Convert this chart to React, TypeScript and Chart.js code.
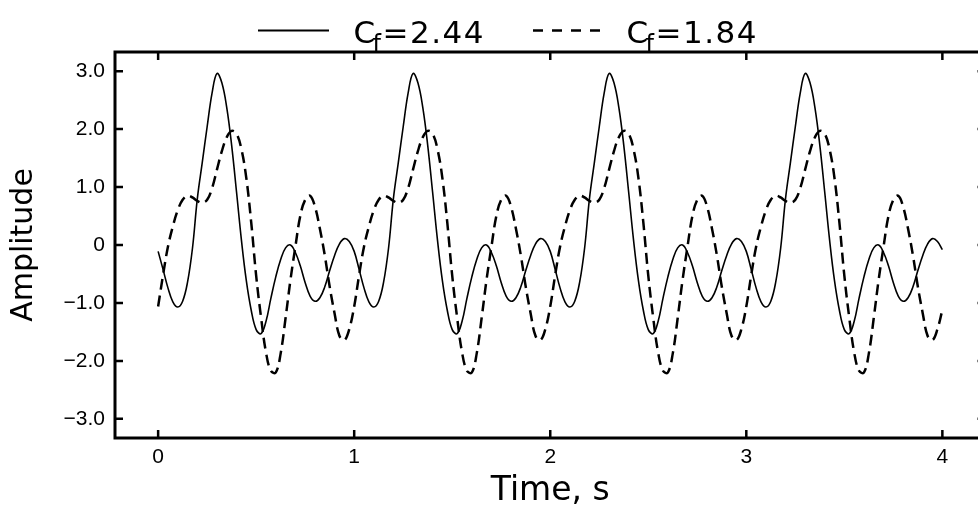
import { useEffect, useRef } from "react";
import { Chart, registerables } from "chart.js";

Chart.register(...registerables);

// Sample times (s)
const TIMES = [
  0, 0.025, 0.05, 0.075, 0.1, 0.125, 0.15, 0.175, 0.2, 0.225,
  0.25, 0.275, 0.3, 0.325, 0.35, 0.375, 0.4, 0.425, 0.45, 0.475,
  0.5, 0.525, 0.55, 0.575, 0.6, 0.625, 0.65, 0.675, 0.7, 0.725,
  0.75, 0.775, 0.8, 0.825, 0.85, 0.875, 0.9, 0.925, 0.95, 0.975,
  1, 1.025, 1.05, 1.075, 1.1, 1.125, 1.15, 1.175, 1.2, 1.225,
  1.25, 1.275, 1.3, 1.325, 1.35, 1.375, 1.4, 1.425, 1.45, 1.475,
  1.5, 1.525, 1.55, 1.575, 1.6, 1.625, 1.65, 1.675, 1.7, 1.725,
  1.75, 1.775, 1.8, 1.825, 1.85, 1.875, 1.9, 1.925, 1.95, 1.975,
  2, 2.025, 2.05, 2.075, 2.1, 2.125, 2.15, 2.175, 2.2, 2.225,
  2.25, 2.275, 2.3, 2.325, 2.35, 2.375, 2.4, 2.425, 2.45, 2.475,
  2.5, 2.525, 2.55, 2.575, 2.6, 2.625, 2.65, 2.675, 2.7, 2.725,
  2.75, 2.775, 2.8, 2.825, 2.85, 2.875, 2.9, 2.925, 2.95, 2.975,
  3, 3.025, 3.05, 3.075, 3.1, 3.125, 3.15, 3.175, 3.2, 3.225,
  3.25, 3.275, 3.3, 3.325, 3.35, 3.375, 3.4, 3.425, 3.45, 3.475,
  3.5, 3.525, 3.55, 3.575, 3.6, 3.625, 3.65, 3.675, 3.7, 3.725,
  3.75, 3.775, 3.8, 3.825, 3.85, 3.875, 3.9, 3.925, 3.95, 3.975,
  4,
];

// Cf = 2.44 (solid)
const SERIES_CF244 = [
  -0.11, -0.42, -0.74, -0.98, -1.07, -0.97, -0.64, -0.06, 0.8, 1.42,
  2.04, 2.62, 2.96, 2.8, 2.37, 1.72, 0.91, 0.08, -0.62, -1.13,
  -1.46, -1.53, -1.32, -0.92, -0.55, -0.25, -0.05, 0, -0.13, -0.36,
  -0.65, -0.88, -0.97, -0.91, -0.72, -0.44, -0.18, 0.02, 0.11, 0.06,
  -0.11, -0.42, -0.74, -0.98, -1.07, -0.97, -0.64, -0.06, 0.8, 1.42,
  2.04, 2.62, 2.96, 2.8, 2.37, 1.72, 0.91, 0.08, -0.62, -1.13,
  -1.46, -1.53, -1.32, -0.92, -0.55, -0.25, -0.05, 0, -0.13, -0.36,
  -0.65, -0.88, -0.97, -0.91, -0.72, -0.44, -0.18, 0.02, 0.11, 0.06,
  -0.11, -0.42, -0.74, -0.98, -1.07, -0.97, -0.64, -0.06, 0.8, 1.42,
  2.04, 2.62, 2.96, 2.8, 2.37, 1.72, 0.91, 0.08, -0.62, -1.13,
  -1.46, -1.53, -1.32, -0.92, -0.55, -0.25, -0.05, 0, -0.13, -0.36,
  -0.65, -0.88, -0.97, -0.91, -0.72, -0.44, -0.18, 0.02, 0.11, 0.06,
  -0.11, -0.42, -0.74, -0.98, -1.07, -0.97, -0.64, -0.06, 0.8, 1.42,
  2.04, 2.62, 2.96, 2.8, 2.37, 1.72, 0.91, 0.08, -0.62, -1.13,
  -1.46, -1.53, -1.32, -0.92, -0.55, -0.25, -0.05, 0, -0.13, -0.36,
  -0.65, -0.88, -0.97, -0.91, -0.72, -0.44, -0.18, 0.02, 0.11, 0.06,
  -0.08,
];

// Cf = 1.84 (dashed)
const SERIES_CF184 = [
  -1.06, -0.52, -0.03, 0.32, 0.6, 0.78, 0.85, 0.82, 0.76, 0.73,
  0.78, 0.98, 1.3, 1.62, 1.86, 1.97, 1.92, 1.65, 1.15, 0.38,
  -0.53, -1.25, -1.85, -2.17, -2.2, -1.87, -1.26, -0.6, -0.03, 0.5,
  0.78, 0.85, 0.66, 0.28, -0.18, -0.72, -1.18, -1.57, -1.64, -1.45,
  -1.06, -0.52, -0.03, 0.32, 0.6, 0.78, 0.85, 0.82, 0.76, 0.73,
  0.78, 0.98, 1.3, 1.62, 1.86, 1.97, 1.92, 1.65, 1.15, 0.38,
  -0.53, -1.25, -1.85, -2.17, -2.2, -1.87, -1.26, -0.6, -0.03, 0.5,
  0.78, 0.85, 0.66, 0.28, -0.18, -0.72, -1.18, -1.57, -1.64, -1.45,
  -1.06, -0.52, -0.03, 0.32, 0.6, 0.78, 0.85, 0.82, 0.76, 0.73,
  0.78, 0.98, 1.3, 1.62, 1.86, 1.97, 1.92, 1.65, 1.15, 0.38,
  -0.53, -1.25, -1.85, -2.17, -2.2, -1.87, -1.26, -0.6, -0.03, 0.5,
  0.78, 0.85, 0.66, 0.28, -0.18, -0.72, -1.18, -1.57, -1.64, -1.45,
  -1.06, -0.52, -0.03, 0.32, 0.6, 0.78, 0.85, 0.82, 0.76, 0.73,
  0.78, 0.98, 1.3, 1.62, 1.86, 1.97, 1.92, 1.65, 1.15, 0.38,
  -0.53, -1.25, -1.85, -2.17, -2.2, -1.87, -1.26, -0.6, -0.03, 0.5,
  0.78, 0.85, 0.66, 0.28, -0.18, -0.72, -1.18, -1.57, -1.64, -1.45,
  -1.12,
];

const SERIES_CF_VALUES = ["2.44", "1.84"];

const X_TICKS = [0, 1, 2, 3, 4];
const X_TICK_LABELS = ["0", "1", "2", "3", "4"];
const Y_TICKS = [-3, -2, -1, 0, 1, 2, 3];
const Y_TICK_LABELS = ["\u22123.0", "\u22122.0", "\u22121.0", "0", "1.0", "2.0", "3.0"];

const X_TITLE = "Time, s";
const Y_TITLE = "Amplitude";

const framePlugin = {
  id: "frameTicks",
  afterDatasetsDraw(chart: any) {
    const { ctx, chartArea, scales } = chart;
    const { left, right, top, bottom } = chartArea;
    ctx.save();
    ctx.strokeStyle = "#000";
    ctx.lineWidth = 3;
    ctx.strokeRect(left, top, right - left, bottom - top);
    ctx.lineWidth = 2.5;
    ctx.beginPath();
    for (const v of X_TICKS) {
      const px = scales.x.getPixelForValue(v);
      ctx.moveTo(px, bottom);
      ctx.lineTo(px, bottom - 8);
      ctx.moveTo(px, top);
      ctx.lineTo(px, top + 8);
    }
    for (const v of Y_TICKS) {
      const py = scales.y.getPixelForValue(v);
      ctx.moveTo(left, py);
      ctx.lineTo(left + 8, py);
      ctx.moveTo(right, py);
      ctx.lineTo(right - 8, py);
    }
    ctx.stroke();
    ctx.restore();
  },
};

const legendPlugin = {
  id: "cfLegend",
  afterDraw(chart: any) {
    const { ctx } = chart;
    const entries = [
      { lineStart: 258, lineEnd: 329, textX: 353.5 },
      { lineStart: 533, lineEnd: 600, textX: 626.5 },
    ];
    ctx.save();
    entries.forEach((e, i) => {
      const ds = chart.data.datasets[i];
      ctx.strokeStyle = ds.borderColor;
      ctx.lineWidth = i === 0 ? 2 : 2.5;
      ctx.setLineDash(i === 0 ? [] : [10, 9]);
      ctx.beginPath();
      ctx.moveTo(e.lineStart, 30.5);
      ctx.lineTo(e.lineEnd, 30.5);
      ctx.stroke();
      ctx.setLineDash([]);
      ctx.fillStyle = "#000";
      ctx.textBaseline = "alphabetic";
      ctx.textAlign = "left";
      ctx.font = '31px "DejaVu Sans"';
      ctx.fillText("C", e.textX, 43);
      ctx.font = '24px "DejaVu Sans"';
      ctx.fillText("f", e.textX + 19, 52);
      ctx.font = '31px "DejaVu Sans"';
      (ctx as any).letterSpacing = "1.5px";
      ctx.fillText("=" + SERIES_CF_VALUES[i], e.textX + 29, 43);
      (ctx as any).letterSpacing = "0px";
    });
    ctx.restore();
  },
};

export default function App() {
  const canvasRef = useRef<HTMLCanvasElement | null>(null);

  useEffect(() => {
    const canvas = canvasRef.current;
    if (!canvas) return;
    const chart = new Chart(canvas, {
      type: "line",
      data: {
        labels: TIMES,
        datasets: [
          {
            label: "Cf=" + SERIES_CF_VALUES[0],
            data: TIMES.map((t, i) => ({ x: t, y: SERIES_CF244[i] })),
            borderColor: "#000",
            borderWidth: 1.6,
            pointRadius: 0,
            tension: 0.4,
            fill: false,
          },
          {
            label: "Cf=" + SERIES_CF_VALUES[1],
            data: TIMES.map((t, i) => ({ x: t, y: SERIES_CF184[i] })),
            borderColor: "#000",
            borderWidth: 2.5,
            borderDash: [11, 6],
            pointRadius: 0,
            tension: 0.4,
            fill: false,
          },
        ],
      },
      options: {
        animation: false,
        responsive: false,
        devicePixelRatio: 1,
        layout: { padding: { left: 0, top: 52, right: 14.5, bottom: 0 } },
        plugins: {
          legend: { display: false },
          tooltip: { enabled: false },
          title: { display: false },
        },
        scales: {
          x: {
            type: "linear",
            min: -0.22,
            max: 4.22,
            afterBuildTicks: (s: any) => {
              s.ticks = X_TICKS.map((v) => ({ value: v }));
            },
            afterFit: (s: any) => {
              s.height = 68;
            },
            ticks: {
              autoSkip: false,
              maxRotation: 0,
              padding: 7,
              color: "#000",
              font: { family: '"Liberation Sans"', size: 21 },
              callback: (v: any) => {
                const idx = X_TICKS.indexOf(Number(v));
                return idx >= 0 ? X_TICK_LABELS[idx] : "";
              },
            },
            grid: { display: false, drawTicks: false },
            border: { display: false },
            title: {
              display: true,
              text: X_TITLE,
              color: "#000",
              font: { family: '"DejaVu Sans"', size: 33, lineHeight: 0.9 },
              padding: 0,
            },
          },
          y: {
            type: "linear",
            min: -3.33,
            max: 3.33,
            afterBuildTicks: (s: any) => {
              s.ticks = Y_TICKS.map((v) => ({ value: v }));
            },
            afterFit: (s: any) => {
              s.width = 115;
            },
            ticks: {
              autoSkip: false,
              padding: 10,
              color: "#000",
              font: { family: '"Liberation Sans"', size: 21 },
              callback: (v: any) => {
                const idx = Y_TICKS.indexOf(Number(v));
                return idx >= 0 ? Y_TICK_LABELS[idx] : "";
              },
            },
            grid: { display: false, drawTicks: false },
            border: { display: false },
            title: {
              display: true,
              text: Y_TITLE,
              color: "#000",
              font: { family: '"DejaVu Sans"', size: 30, lineHeight: 1.2 },
              padding: { top: 6, bottom: 0 },
            },
          },
        },
      },
      plugins: [framePlugin, legendPlugin],
    });
    return () => chart.destroy();
  }, []);

  return (
    <div
      style={{
        position: "absolute",
        left: 0,
        top: 0,
        width: 978,
        height: 506,
        overflow: "hidden",
        background: "#fff",
      }}
    >
      <canvas ref={canvasRef} width={1000} height={506} style={{ display: "block" }} />
    </div>
  );
}
